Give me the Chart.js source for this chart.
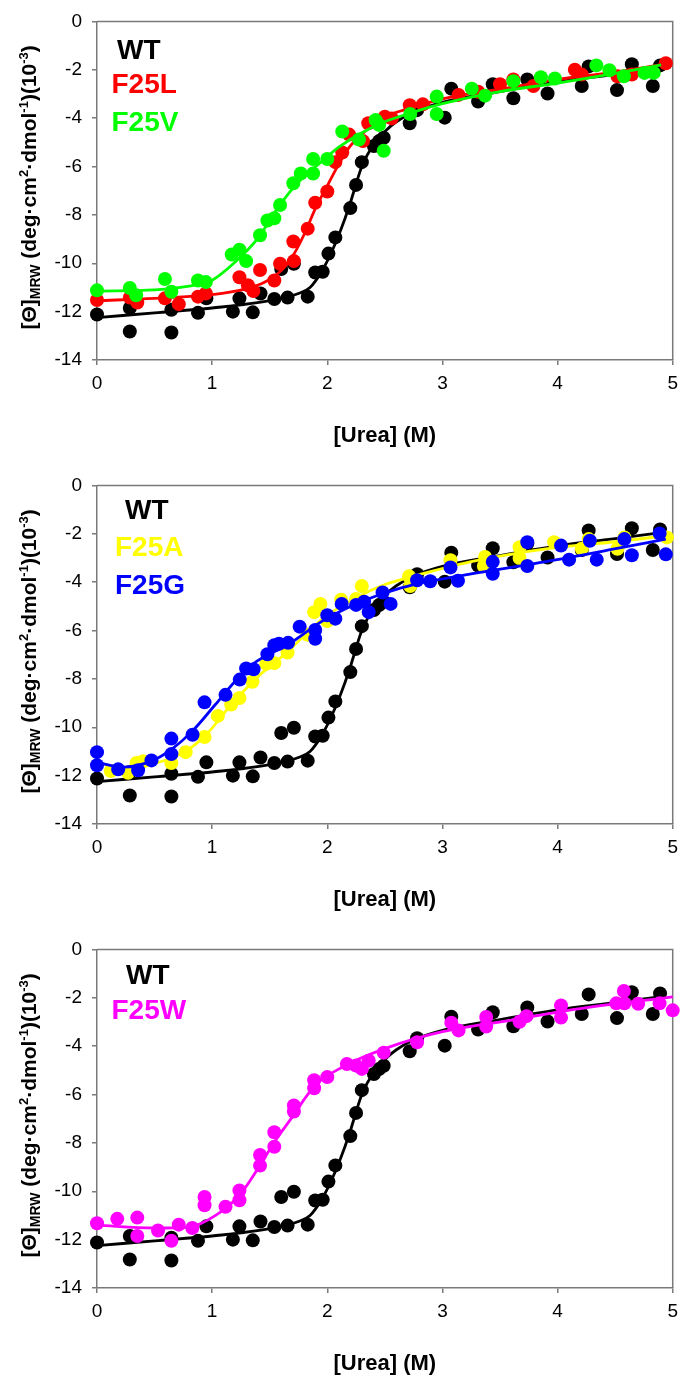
<!DOCTYPE html>
<html>
<head>
<meta charset="utf-8">
<script src="https://cdn.jsdelivr.net/npm/chart.js@4.4.0/dist/chart.umd.min.js"></script>
<style>
  html, body { margin: 0; padding: 0; background: #fff; }
  .panel { position: absolute; left: 0; width: 685px; height: 449px; }
</style>
</head>
<body>
<div class="panel" style="top:0px"><canvas id="c1" width="685" height="449"></canvas></div>
<div class="panel" style="top:464px"><canvas id="c2" width="685" height="449"></canvas></div>
<div class="panel" style="top:928px"><canvas id="c3" width="685" height="449"></canvas></div>
<script>
// ---- data (urea in M, theta in 10^-3 deg cm2 dmol-1) ----
const wtUrea  = [0, 0.285, 0.285, 0.646, 0.646, 0.877, 0.95, 1.18, 1.237, 1.353, 1.42, 1.54, 1.6, 1.655, 1.71, 1.83, 1.895, 1.96, 2.01, 2.07, 2.2, 2.25, 2.3, 2.405, 2.45, 2.49, 2.716, 2.78, 3.02, 3.077, 3.31, 3.437, 3.616, 3.737, 3.913, 4.21, 4.27, 4.516, 4.645, 4.827, 4.89];
const wtTheta = [-12.12, -11.85, -12.82, -11.92, -12.86, -12.05, -11.45, -12.0, -11.45, -12.03, -11.25, -11.48, -10.24, -11.42, -10.02, -11.38, -10.38, -10.35, -9.6, -8.93, -7.72, -6.76, -5.82, -5.15, -4.95, -4.81, -4.21, -3.67, -3.98, -2.78, -3.31, -2.6, -3.18, -2.4, -2.98, -2.67, -1.86, -2.84, -1.77, -2.67, -1.82];
const wtFitUrea  = [0, 0.5, 1.0, 1.5, 1.75, 1.85, 1.95, 2.05, 2.15, 2.2, 2.3, 2.4, 2.5, 2.6, 2.75, 3.0, 3.5, 4.0, 4.5, 4.9];
const wtFitTheta = [-12.25, -12.05, -11.85, -11.55, -11.25, -11.0, -10.35, -9.4, -8.2, -7.5, -6.0, -5.1, -4.55, -4.15, -3.75, -3.35, -2.9, -2.5, -2.2, -1.95];

const lUrea  = [0, 0.285, 0.35, 0.59, 0.71, 0.877, 0.945, 1.237, 1.31, 1.358, 1.416, 1.54, 1.59, 1.705, 1.71, 1.83, 1.895, 2.0, 2.07, 2.13, 2.19, 2.31, 2.356, 2.5, 2.56, 2.716, 2.83, 3.14, 3.31, 3.5, 3.616, 3.79, 4.15, 4.21, 4.52, 4.645, 4.94];
const lTheta = [-11.52, -11.42, -11.62, -11.45, -11.69, -11.38, -11.25, -10.58, -10.91, -11.15, -10.28, -10.71, -10.02, -9.1, -9.91, -8.57, -7.5, -7.03, -5.82, -5.42, -4.68, -4.95, -4.21, -3.94, -4.01, -3.47, -3.43, -3.04, -2.91, -2.6, -2.4, -2.67, -2.0, -2.2, -2.27, -2.2, -1.73];
const lFitUrea  = [0, 0.5, 1.0, 1.3, 1.45, 1.6, 1.7, 1.8, 1.9, 2.0, 2.1, 2.2, 2.35, 2.5, 2.75, 3.0, 3.5, 4.0, 4.5, 4.95];
const lFitTheta = [-11.55, -11.45, -11.3, -11.05, -10.8, -10.3, -9.7, -8.8, -7.7, -6.8, -5.9, -5.15, -4.45, -3.95, -3.55, -3.2, -2.8, -2.4, -2.1, -1.75];

const vUrea  = [0, 0.285, 0.34, 0.59, 0.646, 0.877, 0.945, 1.17, 1.237, 1.295, 1.416, 1.48, 1.54, 1.59, 1.705, 1.77, 1.877, 1.877, 2.0, 2.13, 2.275, 2.42, 2.45, 2.49, 2.72, 2.95, 2.95, 3.255, 3.37, 3.616, 3.855, 3.977, 4.337, 4.45, 4.576, 4.755, 4.835];
const vTheta = [-11.12, -11.02, -11.32, -10.65, -11.18, -10.71, -10.78, -9.64, -9.44, -9.91, -8.84, -8.23, -8.14, -7.59, -6.69, -6.29, -6.29, -5.69, -5.69, -4.55, -4.88, -4.08, -4.28, -5.35, -3.83, -3.11, -3.83, -2.78, -3.07, -2.47, -2.31, -2.36, -1.82, -2.02, -2.27, -2.13, -2.13];
const vFitUrea  = [0, 0.5, 0.8, 1.0, 1.2, 1.4, 1.55, 1.7, 1.8, 1.9, 2.1, 2.3, 2.5, 2.75, 3.0, 3.5, 4.0, 4.5, 4.9];
const vFitTheta = [-11.15, -11.1, -10.95, -10.7, -9.95, -8.95, -7.85, -6.9, -6.4, -6.0, -5.2, -4.6, -4.15, -3.75, -3.4, -2.9, -2.55, -2.15, -1.8];

const aUrea  = [0.12, 0.27, 0.343, 0.4, 0.646, 0.77, 0.934, 1.05, 1.165, 1.237, 1.35, 1.47, 1.54, 1.655, 1.83, 1.886, 1.94, 2.0, 2.12, 2.25, 2.3, 2.71, 2.72, 3.07, 3.36, 3.37, 3.67, 3.67, 3.97, 4.21, 4.27, 4.52, 4.58, 4.95];
const aTheta = [-11.81, -11.88, -11.48, -11.41, -11.48, -11.03, -10.4, -9.53, -9.06, -8.79, -8.12, -7.38, -7.35, -6.91, -6.18, -5.24, -4.9, -5.61, -4.73, -4.7, -4.16, -3.76, -4.16, -3.09, -3.33, -2.96, -2.56, -3.0, -2.35, -2.62, -2.22, -2.62, -2.15, -2.15];
const aFitUrea  = [0, 0.25, 0.5, 0.75, 0.95, 1.15, 1.4, 1.65, 1.95, 2.25, 2.5, 2.75, 3.25, 3.9, 4.5, 4.95];
const aFitTheta = [-11.45, -11.72, -11.5, -11.05, -10.3, -9.15, -7.9, -6.9, -5.55, -4.65, -4.1, -3.75, -3.15, -2.62, -2.33, -2.08];

const gUrea  = [0, 0, 0.184, 0.357, 0.473, 0.646, 0.646, 0.83, 0.934, 1.116, 1.24, 1.295, 1.36, 1.48, 1.54, 1.58, 1.66, 1.76, 1.895, 1.895, 2.0, 2.07, 2.125, 2.25, 2.32, 2.36, 2.48, 2.55, 2.78, 2.894, 3.07, 3.135, 3.437, 3.437, 3.737, 3.737, 4.03, 4.1, 4.28, 4.34, 4.58, 4.645, 4.886, 4.94];
const gTheta = [-11.03, -11.57, -11.74, -11.78, -11.37, -10.47, -11.11, -10.31, -8.97, -8.66, -8.03, -7.57, -7.6, -6.98, -6.61, -6.55, -6.51, -5.84, -6.34, -5.98, -5.37, -5.51, -4.9, -4.94, -4.81, -5.24, -4.43, -4.9, -3.92, -3.96, -3.39, -3.94, -3.16, -3.65, -2.35, -3.33, -2.49, -3.07, -2.29, -3.07, -2.22, -2.89, -1.99, -2.85];
const gFitUrea  = [0, 0.23, 0.47, 0.65, 0.83, 1.03, 1.2, 1.35, 1.67, 1.96, 2.25, 2.5, 2.75, 3.3, 3.9, 4.47, 4.94];
const gFitTheta = [-11.45, -11.65, -11.4, -10.9, -10.15, -9.05, -8.1, -7.4, -6.55, -5.6, -4.9, -4.45, -4.1, -3.62, -3.15, -2.65, -2.22];

const wUrea  = [0, 0.176, 0.35, 0.35, 0.53, 0.646, 0.71, 0.828, 0.934, 0.934, 1.116, 1.237, 1.237, 1.416, 1.416, 1.54, 1.54, 1.71, 1.71, 1.886, 1.886, 2.0, 2.17, 2.25, 2.3, 2.36, 2.49, 2.78, 3.077, 3.14, 3.38, 3.38, 3.67, 3.73, 4.03, 4.03, 4.51, 4.576, 4.58, 4.7, 4.886, 5.0];
const wTheta = [-11.32, -11.14, -11.09, -11.85, -11.62, -12.05, -11.38, -11.52, -10.24, -10.58, -10.64, -9.97, -10.37, -8.5, -8.94, -7.56, -8.16, -6.45, -6.7, -5.41, -5.74, -5.28, -4.74, -4.8, -4.94, -4.6, -4.27, -3.84, -3.03, -3.35, -2.79, -3.19, -2.99, -2.76, -2.32, -2.82, -2.23, -1.72, -2.23, -2.25, -2.23, -2.52];
const wFitUrea  = [0, 0.5, 0.8, 1.03, 1.24, 1.41, 1.55, 1.67, 1.9, 2.13, 2.5, 3.0, 3.6, 4.18, 5.0];
const wFitTheta = [-11.4, -11.52, -11.48, -11.0, -10.15, -8.97, -7.9, -7.1, -5.6, -4.87, -4.1, -3.4, -2.92, -2.46, -1.96];

const xTicks = [0, 1, 2, 3, 4, 5];
const yTicks = [0, -2, -4, -6, -8, -10, -12, -14];

// ---- helpers ----
const family = "'Liberation Sans', Arial, Helvetica, sans-serif";
const axisColor = '#7a7a7a';

function pts(xs, ys) {
  return xs.map((x, i) => ({ x: x, y: ys[i] }));
}
function scatterSet(name, xs, ys, color, order) {
  return { label: name, data: pts(xs, ys), backgroundColor: color, borderWidth: 0,
           pointRadius: 7, pointHoverRadius: 7, showLine: false, clip: false, order: order };
}
function fitSet(name, xs, ys, color, order) {
  return { label: name + ' fit', data: pts(xs, ys), borderColor: color, borderWidth: 2.8,
           pointRadius: 0, showLine: true, cubicInterpolationMode: 'monotone', clip: false, order: order };
}

// frame, in-plot labels, and y title with sub/superscripts
const panelDecor = {
  id: 'panelDecor',
  beforeDatasetsDraw(chart) {
    const { ctx, chartArea: a } = chart;
    ctx.save();
    ctx.strokeStyle = axisColor;
    ctx.lineWidth = 1.5;
    ctx.beginPath();
    ctx.moveTo(a.left, a.top);
    ctx.lineTo(a.right, a.top);
    ctx.lineTo(a.right, a.bottom);
    ctx.stroke();
    ctx.restore();
  },
  afterDraw(chart, args, opts) {
    const { ctx, chartArea: a } = chart;
    ctx.save();
    ctx.font = 'bold 28px ' + family;
    ctx.textBaseline = 'alphabetic';
    ctx.textAlign = 'left';
    opts.labels.forEach(l => {
      ctx.fillStyle = l.color;
      ctx.fillText(l.text, a.left + l.dx, a.top + l.dy);
    });

    // rotated y title
    const pieces = [['[Θ]', 0], ['MRW', 1], [' (deg·cm', 0], ['2', 2], ['·dmol', 0], ['-1', 2], [')(10', 0], ['-3', 2], [')', 0]];
    const fonts = ['bold 21px ' + family, 'bold 14px ' + family, 'bold 13px ' + family];
    const shift = [0, 4, -8.5];
    let total = 0;
    pieces.forEach(p => { ctx.font = fonts[p[1]]; total += ctx.measureText(p[0]).width; });
    ctx.translate(36, a.top + 166);
    ctx.rotate(-Math.PI / 2);
    ctx.fillStyle = '#000';
    let x = -total / 2;
    pieces.forEach(p => {
      ctx.font = fonts[p[1]];
      ctx.fillText(p[0], x, shift[p[1]]);
      x += ctx.measureText(p[0]).width;
    });
    ctx.restore();
  }
};

function makeChart(id, datasets, labels) {
  return new Chart(document.getElementById(id), {
    type: 'scatter',
    data: { datasets: datasets },
    options: {
      responsive: false,
      animation: false,
      events: [],
      layout: { padding: { top: 12, right: 10, left: 0, bottom: 0 } },
      scales: {
        x: {
          type: 'linear', min: 0, max: 5,
          afterBuildTicks: s => { s.ticks = xTicks.map(v => ({ value: v })); },
          afterFit: s => { s.height = 89; },
          ticks: { color: '#000', font: { family: family, size: 19 }, padding: 7, maxRotation: 0 },
          grid: { drawOnChartArea: false, drawTicks: true, tickLength: 5, color: axisColor, lineWidth: 1.5 },
          border: { color: axisColor, width: 1.5 },
          title: { display: true, text: '[Urea] (M)', color: '#000',
                   font: { family: family, size: 22, weight: 'bold' }, padding: { top: 0, bottom: 0 } }
        },
        y: {
          type: 'linear', min: -14, max: 0,
          afterBuildTicks: s => { s.ticks = yTicks.map(v => ({ value: v })); },
          afterFit: s => { s.width = 97; },
          ticks: { color: '#000', font: { family: family, size: 19 }, padding: 10 },
          grid: { drawOnChartArea: false, drawTicks: true, tickLength: 5, color: axisColor, lineWidth: 1.5 },
          border: { color: axisColor, width: 1.5 }
        }
      },
      plugins: {
        legend: { display: false },
        tooltip: { enabled: false },
        panelDecor: { labels: labels }
      }
    },
    plugins: [panelDecor]
  });
}

makeChart('c1', [
  scatterSet('F25V', vUrea, vTheta, '#00ff00', 0),
  fitSet('F25V', vFitUrea, vFitTheta, '#00ff00', 1),
  scatterSet('F25L', lUrea, lTheta, '#ff0000', 2),
  fitSet('F25L', lFitUrea, lFitTheta, '#ff0000', 3),
  fitSet('WT', wtFitUrea, wtFitTheta, '#000000', 4),
  scatterSet('WT', wtUrea, wtTheta, '#000000', 5)
], [
  { text: 'WT', color: '#000000', dx: 20, dy: 38 },
  { text: 'F25L', color: '#ff0000', dx: 14.5, dy: 71.5 },
  { text: 'F25V', color: '#00ff00', dx: 14.5, dy: 110 }
]);

makeChart('c2', [
  scatterSet('F25G', gUrea, gTheta, '#0000ff', 0),
  fitSet('F25G', gFitUrea, gFitTheta, '#0000ff', 1),
  scatterSet('F25A', aUrea, aTheta, '#ffff00', 2),
  fitSet('F25A', aFitUrea, aFitTheta, '#ffff00', 3),
  fitSet('WT', wtFitUrea, wtFitTheta, '#000000', 4),
  scatterSet('WT', wtUrea, wtTheta, '#000000', 5)
], [
  { text: 'WT', color: '#000000', dx: 28, dy: 34 },
  { text: 'F25A', color: '#ffff00', dx: 18, dy: 70.5 },
  { text: 'F25G', color: '#0000ff', dx: 18, dy: 108.5 }
]);

makeChart('c3', [
  scatterSet('F25W', wUrea, wTheta, '#ff00ff', 0),
  fitSet('F25W', wFitUrea, wFitTheta, '#ff00ff', 1),
  fitSet('WT', wtFitUrea, wtFitTheta, '#000000', 2),
  scatterSet('WT', wtUrea, wtTheta, '#000000', 3)
], [
  { text: 'WT', color: '#000000', dx: 29, dy: 34.5 },
  { text: 'F25W', color: '#ff00ff', dx: 14.5, dy: 69.5 }
]);
</script>
</body>
</html>
